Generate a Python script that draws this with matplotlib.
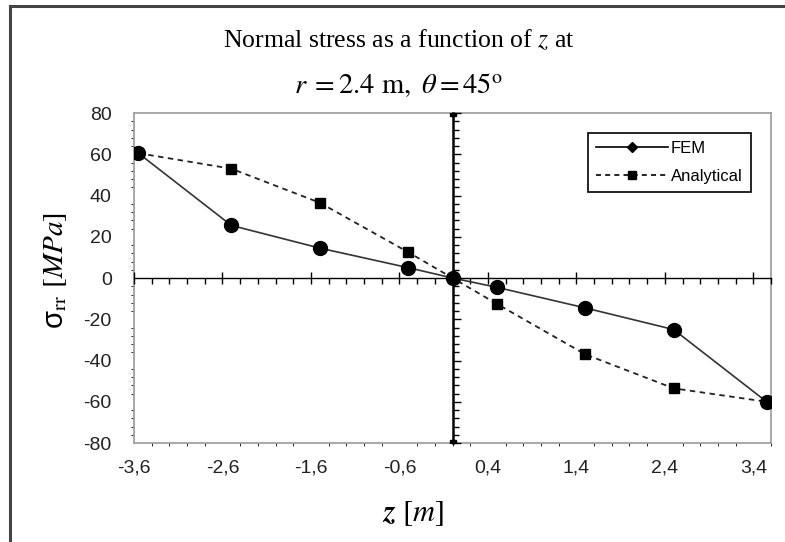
import matplotlib
matplotlib.use("Agg")
import matplotlib.pyplot as plt
from matplotlib.lines import Line2D
from matplotlib.ticker import MultipleLocator, FixedLocator

# ---- data ----
z = [-3.55, -2.5, -1.5, -0.5, 0.0, 0.5, 1.5, 2.5, 3.55]
fem = [60.5, 25.5, 14.5, 5.0, 0.0, -4.5, -14.5, -25.0, -60.0]
analytical = [60.5, 53.0, 36.5, 12.5, 0.0, -12.5, -37.0, -53.5, -60.0]
x_ticks = [-3.6, -2.6, -1.6, -0.6, 0.4, 1.4, 2.4, 3.4]
x_tick_labels = ["-3,6", "-2,6", "-1,6", "-0,6", "0,4", "1,4", "2,4", "3,4"]
y_ticks = [-80, -60, -40, -20, 0, 20, 40, 60, 80]
axis_line_z = [0.0, 0.0]
axis_line_y = [80, -80]

plt.rcParams['mathtext.fontset'] = 'stix'
plt.rcParams['axes.unicode_minus'] = False
sans = ['Liberation Sans Narrow', 'Liberation Sans', 'DejaVu Sans']
serif = ['Liberation Serif', 'DejaVu Serif']

fig = plt.figure(figsize=(7.85, 5.42), dpi=100)
fig.patch.set_facecolor('white')

pos = [134/785, 1-443/542, 637/785, 330/542]
ax = fig.add_axes(pos)
ax.set_xlim(-3.6, 3.6)
ax.set_ylim(-80, 80)
for s in ax.spines.values():
    s.set_color('#9a9a9a')
    s.set_linewidth(1.2)
ax.xaxis.set_major_locator(FixedLocator(x_ticks))
ax.set_xticklabels(x_tick_labels)
ax.yaxis.set_major_locator(FixedLocator(y_ticks))
ax.tick_params(axis='both', length=0, labelsize=14, colors='#222222')
ax.tick_params(axis='x', pad=12)
ax.tick_params(axis='y', pad=16)
for lab in ax.get_xticklabels() + ax.get_yticklabels():
    lab.set_family(sans)

# overlay axes for the centred axis lines with ticks
ax2 = fig.add_axes(pos, sharex=ax, sharey=ax)
ax2.patch.set_visible(False)
ax2.spines['top'].set_visible(False)
ax2.spines['right'].set_visible(False)
ax2.spines['left'].set_position(('data', 0))
ax2.spines['bottom'].set_position(('data', 0))
ax2.spines['left'].set_linewidth(1.8)
ax2.spines['bottom'].set_linewidth(1.0)
ax2.spines['left'].set_color('black')
ax2.spines['bottom'].set_color('black')
ax2.xaxis.set_minor_locator(MultipleLocator(0.2))
ax2.yaxis.set_minor_locator(MultipleLocator(4))
ax2.tick_params(axis='x', which='major', direction='inout', length=9, width=1, labelbottom=False)
ax2.tick_params(axis='x', which='minor', direction='out', length=4, width=1)
ax2.tick_params(axis='y', which='major', direction='in', length=6, width=1, labelleft=False)
ax2.tick_params(axis='y', which='minor', direction='in', length=4, width=1)

ax2.plot(axis_line_z, axis_line_y, ls='none', marker='s', ms=5, color='black', zorder=5)
ax2.plot(z, analytical, ls=(0, (3, 2.5)), lw=1.3, color='#222222', marker='s', ms=7,
         mfc='black', mec='black', zorder=6)
ax2.plot(z, fem, ls='-', lw=1.2, color='#333333', marker='o', ms=10,
         mfc='black', mec='black', zorder=7)

handles = [Line2D([], [], color='black', lw=1.2, marker='D', ms=5),
           Line2D([], [], color='black', lw=1.2, ls=(0, (3, 2.5)), marker='s', ms=6)]
leg = ax2.legend(handles, ['FEM', 'Analytical'], loc='upper right',
                 bbox_to_anchor=(0.982, 0.965), frameon=True, fancybox=False,
                 edgecolor='black', framealpha=1, handlelength=4.3,
                 prop={'family': sans, 'size': 12}, borderpad=0.5, labelspacing=0.75,
                 handletextpad=0.2)
leg.get_frame().set_linewidth(1.2)

# titles and axis labels
fig.text(0.508, 0.926, r'Normal stress as a function of $z$ at', ha='center', va='center',
         family=serif, size=18.5)
fig.text(0.508, 0.843, r'$r\;=2.4\ \mathrm{m},\ \theta=45^{\mathrm{o}}$', ha='center', va='center',
         size=20.5)
fig.text(0.070, 0.5, r'σ$_{\mathrm{rr}}$ $[MPa]$', rotation=90, ha='center',
         va='center', size=21, family=sans)
fig.text(0.526, 0.052, r'$\boldsymbol{z}\ [m]$', ha='center', va='center', size=22)

# outer chart border (top and left)
fig.add_artist(Line2D([10/785, 1.0], [1-6/542, 1-6/542], transform=fig.transFigure,
                      color='#444444', lw=2.2))
fig.add_artist(Line2D([10/785, 10/785], [0, 1-6/542], transform=fig.transFigure,
                      color='#444444', lw=2.2))

fig.savefig('out.png', dpi=100, facecolor='white')
